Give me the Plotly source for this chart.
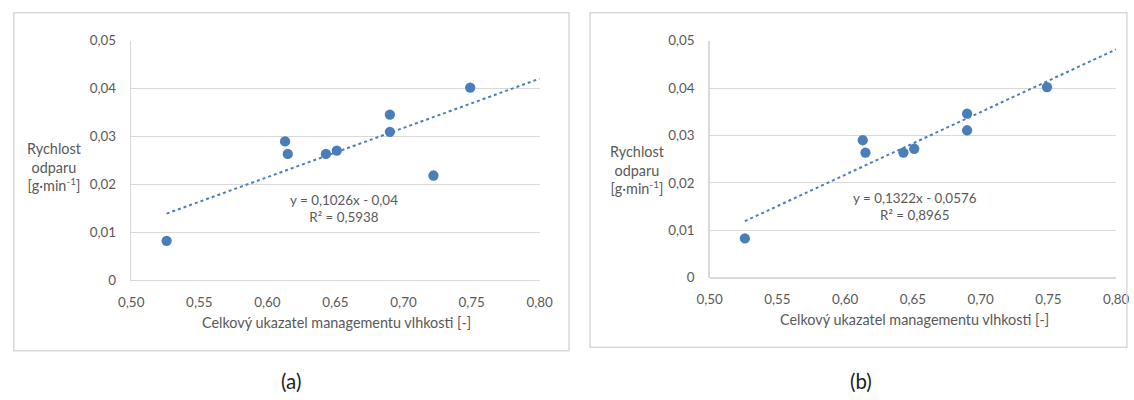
import plotly.graph_objects as go

# Measured moisture-management index vs. evaporation rate
index_a = [0.526, 0.613, 0.615, 0.643, 0.651, 0.690, 0.690, 0.722, 0.749]
rate_a = [0.0083, 0.0290, 0.0264, 0.0264, 0.0271, 0.0346, 0.0310, 0.0219, 0.0402]

index_b = [0.526, 0.613, 0.615, 0.643, 0.651, 0.690, 0.690, 0.749]
rate_b = [0.0083, 0.0290, 0.0264, 0.0264, 0.0272, 0.0346, 0.0311, 0.0402]

# Linear trend coefficients (slope, intercept) and R²
slope_a, intercept_a, r2_a = 0.1026, -0.04, 0.5938
slope_b, intercept_b, r2_b = 0.1322, -0.0576, 0.8965
trend_x = [0.526, 0.80]

x_ticks = [0.50, 0.55, 0.60, 0.65, 0.70, 0.75, 0.80]
x_tick_text = ["0,50", "0,55", "0,60", "0,65", "0,70", "0,75", "0,80"]
y_ticks = [0, 0.01, 0.02, 0.03, 0.04, 0.05]
y_tick_text = ["0", "0,01", "0,02", "0,03", "0,04", "0,05"]

W, H = 1134, 400
FONT = "Lato"
GREY = "#595959"
GRID = "#d9d9d9"
BLUE = "#4a7ebb"


def px(x):
    return x / W


def py(y):
    return 1 - y / H


fig = go.Figure()

panels = [
    dict(x=index_a, y=rate_a, m=slope_a, c=intercept_a, r2=r2_a, xa="x", ya="y",
         xdom=[px(121), px(539)], ydom=[py(284), py(34)],
         box=(0.8, 5, 569, 357), eq=(339, 208.5), ytitle=(42, 166), xtitle=(331, 327.5),
         tag="(a)", tagx=285),
    dict(x=index_b, y=rate_b, m=slope_b, c=intercept_b, r2=r2_b, xa="x2", ya="y2",
         xdom=[px(713), px(1129)], ydom=[py(281), py(34)],
         box=(590.5, 5, 1140, 353.5), eq=(923.5, 206.5), ytitle=(639.5, 168.5),
         xtitle=(922.5, 324.5), tag="(b)", tagx=867.5),
]


def label(x, y, text, size=13, color=GREY):
    fig.add_annotation(x=px(x), y=py(y), xref="paper", yref="paper", text=text,
                       showarrow=False, align="center", xanchor="center",
                       yanchor="middle", font=dict(family=FONT, size=size, color=color))


for i, p in enumerate(panels):
    fig.add_trace(go.Scatter(
        x=p["x"], y=p["y"], mode="markers", xaxis=p["xa"], yaxis=p["ya"],
        marker=dict(color=BLUE, size=10.3), showlegend=False, hoverinfo="skip"))
    fig.add_trace(go.Scatter(
        x=trend_x, y=[p["m"] * t + p["c"] for t in trend_x], mode="lines",
        xaxis=p["xa"], yaxis=p["ya"],
        line=dict(color=BLUE, width=2, dash="dot"), showlegend=False, hoverinfo="skip"))

    suffix = "" if i == 0 else "2"
    fig.update_layout({
        "xaxis" + suffix: dict(
            domain=p["xdom"], range=[0.50, 0.80], anchor="y" + suffix,
            tickvals=x_ticks, ticktext=x_tick_text, showgrid=False, zeroline=False,
            showline=False, ticks="outside", ticklen=9, tickcolor="rgba(0,0,0,0)",
            tickfont=dict(family=FONT, size=13.4, color=GREY), fixedrange=True),
        "yaxis" + suffix: dict(
            domain=p["ydom"], range=[0, 0.05], anchor="x" + suffix,
            tickvals=y_ticks, ticktext=y_tick_text, showgrid=True, gridcolor=GRID,
            gridwidth=1, zeroline=True, zerolinecolor=GRID, zerolinewidth=1.5,
            showline=True, linecolor=GRID, linewidth=1.5,
            ticks="outside", ticklen=11, tickcolor="rgba(0,0,0,0)",
            tickfont=dict(family=FONT, size=13.4, color=GREY), fixedrange=True),
    })

    x0, y0, x1, y1 = p["box"]
    fig.add_shape(type="rect", xref="paper", yref="paper",
                  x0=px(x0), x1=px(x1), y0=py(y1), y1=py(y0),
                  line=dict(color=GRID, width=1.5), fillcolor="rgba(0,0,0,0)")

    sign = "-" if p["c"] < 0 else "+"
    eq_text = (f"y = {p['m']:.4f}x {sign} {abs(p['c']):g}".replace(".", ",")
               + "<br>" + f"R² = {p['r2']:.4f}".replace(".", ","))
    label(p["eq"][0], p["eq"][1], eq_text, size=13.4)
    label(p["ytitle"][0], p["ytitle"][1], "Rychlost<br>odparu<br>[g·min<sup>-1</sup>]", size=14.4)
    label(p["xtitle"][0], p["xtitle"][1], "Celkový ukazatel managementu vlhkosti [-]", size=14.4)
    label(p["tagx"], 389, p["tag"], size=20.5, color="#222222")

fig.update_layout(
    width=W, height=H, margin=dict(l=0, r=0, t=0, b=0),
    paper_bgcolor="white", plot_bgcolor="white",
)

# Static render: no drag/hover layers around the subplots.
fig.write_html("out.html", config={"staticPlot": True, "displayModeBar": False},
               post_script="document.body.style.margin='0';")
